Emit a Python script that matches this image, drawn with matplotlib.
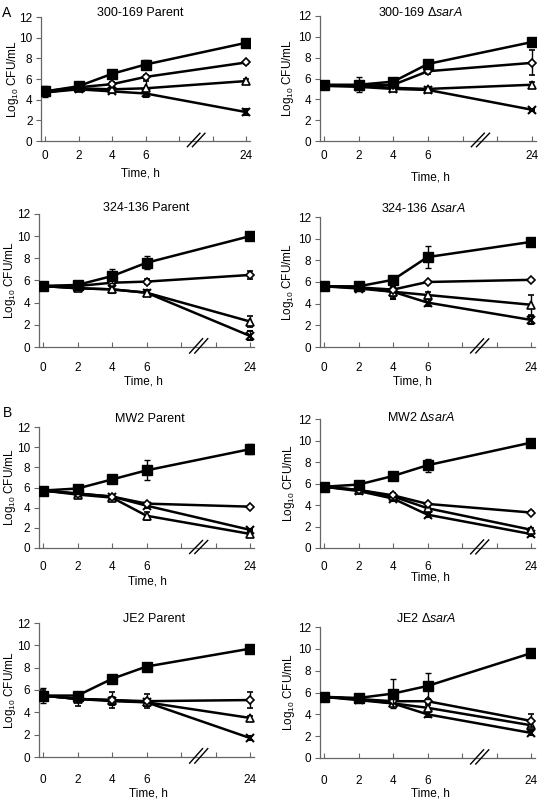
import matplotlib
matplotlib.use('Agg')
import matplotlib.pyplot as plt

plt.rcParams['font.family'] = ['Liberation Sans', 'DejaVu Sans']
plt.rcParams['mathtext.fontset'] = 'custom'
plt.rcParams['mathtext.rm'] = 'Liberation Sans'
plt.rcParams['mathtext.it'] = 'Liberation Sans:italic'

# sampling times (h) and where they sit on the broken axis
times = [0, 2, 4, 6, 24]
xpos = [0, 2, 4, 6, 12]
tick_pos = [0, 2, 4, 6, 8, 10, 12]
tick_lab = ['0', '2', '4', '6', '', '', '24']

titles = ['300-169 Parent', '300-169 Δ$\\mathit{sarA}$',
          '324-136 Parent', '324-136 Δ$\\mathit{sarA}$',
          'MW2 Parent', 'MW2 Δ$\\mathit{sarA}$',
          'JE2 Parent', 'JE2 Δ$\\mathit{sarA}$']

# rows: filled square, open diamond, open triangle, cross
m300_par = [[4.8, 5.3, 6.5, 7.4, 9.5], [4.8, 5.2, 5.5, 6.2, 7.6],
            [4.7, 5.1, 5.0, 5.1, 5.8], [4.7, 5.0, 4.8, 4.6, 2.8]]
e300_par = [[0.5, 0.2, 0.3, 0.4, 0.2], [0.3, 0.2, 0.2, 0.2, 0.1],
            [0.3, 0.2, 0.2, 0.7, 0.2], [0.2, 0.2, 0.2, 0.3, 0.3]]
m300_sar = [[5.4, 5.4, 5.7, 7.4, 9.5], [5.3, 5.3, 5.4, 6.7, 7.5],
            [5.3, 5.3, 5.1, 5.0, 5.4], [5.3, 5.2, 5.0, 4.9, 3.0]]
e300_sar = [[0.2, 0.7, 0.2, 0.2, 0.2], [0.2, 0.3, 0.2, 0.3, 1.2],
            [0.2, 0.2, 0.2, 0.2, 0.3], [0.1, 0.2, 0.2, 0.2, 0.1]]
m324_par = [[5.5, 5.6, 6.4, 7.6, 10.0], [5.5, 5.5, 5.8, 5.9, 6.5],
            [5.5, 5.3, 5.2, 4.9, 2.3], [5.5, 5.3, 5.2, 4.9, 1.0]]
e324_par = [[0.2, 0.2, 0.6, 0.6, 0.2], [0.2, 0.2, 0.2, 0.2, 0.4],
            [0.2, 0.2, 0.3, 0.2, 0.5], [0.2, 0.2, 0.3, 0.2, 0.4]]
m324_sar = [[5.6, 5.6, 6.2, 8.3, 9.7], [5.6, 5.5, 5.3, 6.0, 6.2],
            [5.6, 5.5, 5.1, 4.8, 3.9], [5.6, 5.4, 5.1, 4.1, 2.5]]
e324_sar = [[0.2, 0.2, 0.3, 1.0, 0.3], [0.1, 0.1, 0.2, 0.1, 0.1],
            [0.1, 0.1, 0.5, 0.3, 0.9], [0.1, 0.2, 0.7, 0.3, 0.4]]
mmw2_par = [[5.7, 5.9, 6.8, 7.7, 9.8], [5.7, 5.4, 5.1, 4.4, 4.1],
            [5.7, 5.3, 5.0, 3.2, 1.4], [5.7, 5.4, 5.1, 4.2, 1.8]]
emw2_par = [[0.2, 0.2, 0.3, 1.0, 0.5], [0.1, 0.1, 0.1, 0.1, 0.1],
            [0.1, 0.2, 0.2, 0.4, 0.2], [0.1, 0.1, 0.1, 0.2, 0.1]]
mmw2_sar = [[5.7, 5.9, 6.7, 7.7, 9.8], [5.7, 5.4, 4.9, 4.1, 3.3],
            [5.7, 5.4, 4.8, 3.7, 1.7], [5.7, 5.3, 4.6, 3.1, 1.3]]
emw2_sar = [[0.2, 0.2, 0.3, 0.6, 0.2], [0.1, 0.1, 0.1, 0.1, 0.1],
            [0.1, 0.1, 0.3, 0.2, 0.2], [0.1, 0.2, 0.2, 0.2, 0.2]]
mje2_par = [[5.5, 5.5, 7.0, 8.1, 9.7], [5.5, 5.2, 5.1, 5.0, 5.1],
            [5.5, 5.2, 5.1, 4.9, 3.5], [5.5, 5.2, 5.0, 4.9, 1.7]]
eje2_par = [[0.7, 0.2, 0.2, 0.2, 0.2], [0.5, 0.6, 0.7, 0.6, 0.7],
            [0.3, 0.3, 0.3, 0.3, 0.2], [0.3, 0.3, 0.3, 0.3, 0.2]]
mje2_sar = [[5.6, 5.5, 5.9, 6.6, 9.6], [5.6, 5.4, 5.2, 5.2, 3.4],
            [5.6, 5.4, 5.0, 4.6, 3.0], [5.6, 5.3, 5.0, 4.0, 2.3]]
eje2_sar = [[0.2, 0.2, 1.3, 1.2, 0.2], [0.1, 0.1, 0.2, 0.2, 0.6],
            [0.1, 0.1, 0.2, 0.3, 0.3], [0.1, 0.1, 0.2, 0.2, 0.2]]

means = [m300_par, m300_sar, m324_par, m324_sar, mmw2_par, mmw2_sar, mje2_par, mje2_sar]
errs = [e300_par, e300_sar, e324_par, e324_sar, emw2_par, emw2_sar, eje2_par, eje2_sar]

W, H = 547, 802
# pixel layout: x of t=0, x of t=24, y of 12, y of 0
boxes = [(45, 246, 17, 141), (324, 532, 16, 141),
         (43, 250, 214, 347), (324, 531, 217, 347),
         (43, 250, 427, 548), (324, 531, 419, 548),
         (43, 250, 623, 757), (324, 531, 627, 758)]
title_xy = [(140, 13), (420, 13), (146, 208), (423, 209),
            (150, 419), (421, 418), (154, 619), (426, 618)]
xlab_xy = [(140, 173), (430, 177), (143, 382), (412, 382),
           (147, 582), (430, 578), (148, 794), (430, 793)]
ylab_x = [13, 288, 10, 288, 10, 289, 10, 289]
xpads = [6.5, 6.5, 11, 11, 9.5, 9.5, 12.5, 12.5]

styles = [dict(marker='s', ms=6.5, mfc='black', mec='black'),
          dict(marker='D', ms=4.5, mfc='white', mec='black', mew=1.2),
          dict(marker='^', ms=5.5, mfc='white', mec='black', mew=1.2),
          dict(marker='x', ms=6, mfc='black', mec='black', mew=1.5)]

fig = plt.figure(figsize=(W / 100, H / 100), dpi=100)

for i in range(8):
    x0, x12, y12, y0 = boxes[i]
    u = (x12 - x0) / 12.0
    left = x0 - 0.25 * u
    ax = fig.add_axes([left / W, (H - y0) / H, 12.5 * u / W, (y0 - y12) / H])
    for k in [3, 2, 1, 0]:
        ax.errorbar(xpos, means[i][k], yerr=errs[i][k], color='black', lw=1.8,
                    elinewidth=1, capsize=2.5, capthick=1, zorder=3 + (3 - k),
                    **styles[k])
    ax.set_xlim(-0.25, 12.25)
    ax.set_ylim(0, 12)
    ax.set_yticks(range(0, 13, 2))
    ax.set_xticks(tick_pos)
    ax.set_xticklabels(tick_lab)
    for s in ['top', 'right']:
        ax.spines[s].set_visible(False)
    for s in ['left', 'bottom']:
        ax.spines[s].set_color('#666666')
        ax.spines[s].set_linewidth(0.9)
    ax.tick_params(axis='y', direction='out', length=3.5, width=0.8, color='#666666',
                   labelsize=8.5, pad=2.5)
    ax.tick_params(axis='x', direction='in', length=3.5, width=0.8, color='#666666',
                   labelsize=8.5, pad=xpads[i])
    # axis break marks
    ax.plot([8.5, 9.25], [-0.55, 0.75], color='black', lw=1, clip_on=False, zorder=10)
    ax.plot([8.8, 9.55], [-0.55, 0.75], color='black', lw=1, clip_on=False, zorder=10)
    tx, ty = title_xy[i]
    fig.text(tx / W, 1 - ty / H, titles[i], fontsize=9, ha='center', va='center')
    lx, ly = xlab_xy[i]
    fig.text(lx / W, 1 - ly / H, 'Time, h', fontsize=8.5, ha='center', va='center')
    fig.text(ylab_x[i] / W, 1 - (y0 + y12) / 2 / H, 'Log$_{10}$ CFU/mL', fontsize=8.5,
             rotation=90, ha='center', va='center')

fig.text(7 / W, 1 - 13 / H, 'A', fontsize=10, ha='center', va='center')
fig.text(7 / W, 1 - 413 / H, 'B', fontsize=10, ha='center', va='center')

fig.savefig('out.png', dpi=100)
